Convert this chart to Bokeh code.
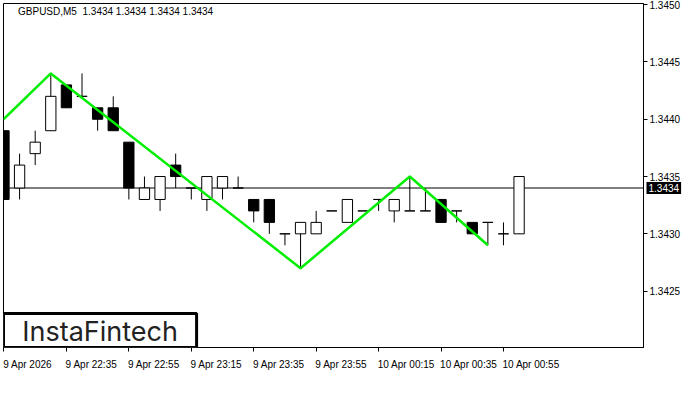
from bokeh.plotting import figure
from bokeh.models import (FixedTicker, Span, Label, BoxAnnotation, ColumnDataSource,
                          Range1d, PrintfTickFormatter, CustomJSTickFormatter)
from bokeh.embed import file_html
from bokeh.resources import INLINE

# ---------------- data ----------------
bar_index = list(range(34))
opens = [1.3439, 1.3434, 1.3437, 1.3439, 1.3443, 1.3442, 1.3441, 1.3441, 1.3438, 1.3433,
         1.3433, 1.3436, 1.3434, 1.3433, 1.3434, 1.3434, 1.3433, 1.3433, 1.3430, 1.3430,
         1.3430, 1.3432, 1.3431, 1.3432, 1.3433, 1.3432, 1.3432, 1.3432, 1.3433, 1.3432,
         1.3431, 1.3431, 1.3430, 1.3430]
highs = [1.3439, 1.3437, 1.3439, 1.3444, 1.3443, 1.3444, 1.3441, 1.3442, 1.3438, 1.3435,
         1.3435, 1.3437, 1.3434, 1.3435, 1.3435, 1.3435, 1.3433, 1.3433, 1.3430, 1.3431,
         1.3432, 1.3432, 1.3433, 1.3432, 1.3433, 1.3433, 1.3435, 1.3434, 1.3433, 1.3432,
         1.3431, 1.3431, 1.3431, 1.3435]
lows = [1.3433, 1.3433, 1.3436, 1.3439, 1.3441, 1.3442, 1.3439, 1.3439, 1.3433, 1.3433,
        1.3432, 1.3434, 1.3433, 1.3432, 1.3433, 1.3434, 1.3431, 1.3430, 1.3429, 1.3427,
        1.3430, 1.3432, 1.3431, 1.3432, 1.3432, 1.3431, 1.3432, 1.3432, 1.3431, 1.3431,
        1.3430, 1.3429, 1.3429, 1.3430]
closes = [1.3433, 1.3436, 1.3438, 1.3442, 1.3441, 1.3442, 1.3440, 1.3439, 1.3434, 1.3434,
          1.3435, 1.3435, 1.3434, 1.3435, 1.3435, 1.3434, 1.3432, 1.3431, 1.3430, 1.3431,
          1.3431, 1.3432, 1.3433, 1.3432, 1.3433, 1.3433, 1.3432, 1.3432, 1.3431, 1.3432,
          1.3430, 1.3431, 1.3430, 1.3435]

pattern_index = [-0.03, 3, 19, 26, 31]
pattern_price = [1.34400, 1.3444, 1.3427, 1.3435, 1.3429]

time_ticks = [0, 4, 8, 12, 16, 20, 24, 28, 32]
time_labels = ["9 Apr 2026", "9 Apr 22:35", "9 Apr 22:55", "9 Apr 23:15", "9 Apr 23:35",
               "9 Apr 23:55", "10 Apr 00:15", "10 Apr 00:35", "10 Apr 00:55"]
price_ticks = [1.3425, 1.3430, 1.3435, 1.3440, 1.3445, 1.3450]
current_price = 1.3434
title_text = "GBPUSD,M5\u00a0\u00a01.3434 1.3434 1.3434 1.3434"
logo_text = "InstaFintech"

# ---------------- figure ----------------
FONT = "Liberation Sans"
fs_num = 10
FS = f"{fs_num}px"
X0, X1 = -0.03, 40.97
Y0, Y1 = 1.342008, 1.3450102
FRAME_W = 640
BORDER_L = 3

p = figure(width=684, height=384, x_range=Range1d(X0, X1), y_range=Range1d(Y0, Y1),
           y_axis_location="right", output_backend="svg", toolbar_location=None,
           min_border_left=BORDER_L, min_border_top=3, min_border_right=41, min_border_bottom=22)
p.xgrid.visible = False
p.ygrid.visible = False
p.background_fill_color = "white"
p.border_fill_color = "white"
p.outline_line_color = "black"
p.outline_line_alpha = 1.0
p.outline_line_width = 1

# right price axis
ya = p.yaxis[0]
ya.ticker = FixedTicker(ticks=price_ticks)
ya.formatter = PrintfTickFormatter(format="%.4f")
ya.major_tick_out = 4
ya.major_tick_in = 0
ya.minor_tick_line_color = None
ya.major_label_standoff = 2
ya.major_label_text_font = FONT
ya.major_label_text_font_size = FS
ya.major_label_text_color = "black"
ya.axis_line_color = "black"
ya.major_tick_line_color = "black"

# bottom time axis: labels left-aligned at the tick (label centres shifted right)
px_per_bar = FRAME_W / (X1 - X0)
cw = {" ": 0.278, "A": 0.667, "p": 0.556, "r": 0.333, ":": 0.278}


def text_w(s):
    return sum(cw.get(ch, 0.556) for ch in s) * fs_num * 0.95


label_centres = [t + (text_w(s) / 2 + 0.5) / px_per_bar for t, s in zip(time_ticks, time_labels)]
xa = p.xaxis[0]
xa.ticker = FixedTicker(ticks=label_centres, minor_ticks=time_ticks)
xa.formatter = CustomJSTickFormatter(args=dict(labels=time_labels), code="return labels[index];")
xa.major_tick_line_color = None
xa.minor_tick_line_color = "black"
xa.minor_tick_out = 4
xa.minor_tick_in = 0
xa.major_label_standoff = 5
xa.major_label_text_font = FONT
xa.major_label_text_font_size = FS
xa.major_label_text_color = "black"
xa.axis_line_color = "black"

# current price line (under the candles)
p.add_layout(Span(location=current_price, dimension="width", line_color="black",
                  line_width=1, level="underlay"))

# candles
src = ColumnDataSource(dict(
    x=bar_index, o=opens, h=highs, l=lows, c=closes,
    top=[max(a, b) for a, b in zip(opens, closes)],
    bottom=[min(a, b) for a, b in zip(opens, closes)],
    fill=["black" if c < o else "white" for o, c in zip(opens, closes)],
))
p.segment(x0="x", y0="l", x1="x", y1="h", source=src, line_color="black", line_width=1)
p.vbar(x="x", top="top", bottom="bottom", width=0.66, source=src,
       fill_color="fill", line_color="black", line_width=1)

# pattern line
p.line(pattern_index, pattern_price, line_color="#00ee00", line_width=2.5)

# header text
p.add_layout(Label(x=0.9, y=1.344944, text=title_text, text_font=FONT,
                   text_font_size=FS, text_color="black", text_baseline="middle",
                   text_align="left"))

# current price tag on the right; it lives in a side panel (below, outermost) so that
# it is not clipped to the frame and does not narrow the frame
tag = Label(x=BORDER_L + FRAME_W + 3, x_units="canvas", y=current_price,
            text="1.3434", text_font=FONT, text_font_size=FS, text_color="white",
            text_baseline="middle", text_align="left",
            background_fill_color="black", background_fill_alpha=1.0,
            padding=2)
p.add_layout(tag, "below")

# logo
p.add_layout(BoxAnnotation(left=X0, right=12.34, bottom=Y0, top=1.342304,
                           fill_color="white", fill_alpha=1.0,
                           line_color="black", line_width=3, line_alpha=1.0))
p.add_layout(Label(x=6.16, y=1.342152, text=logo_text, text_font="Inter",
                   text_font_size="27px", text_color="#222222",
                   text_baseline="middle", text_align="center"))

open("out.html", "w").write(file_html(p, INLINE))
